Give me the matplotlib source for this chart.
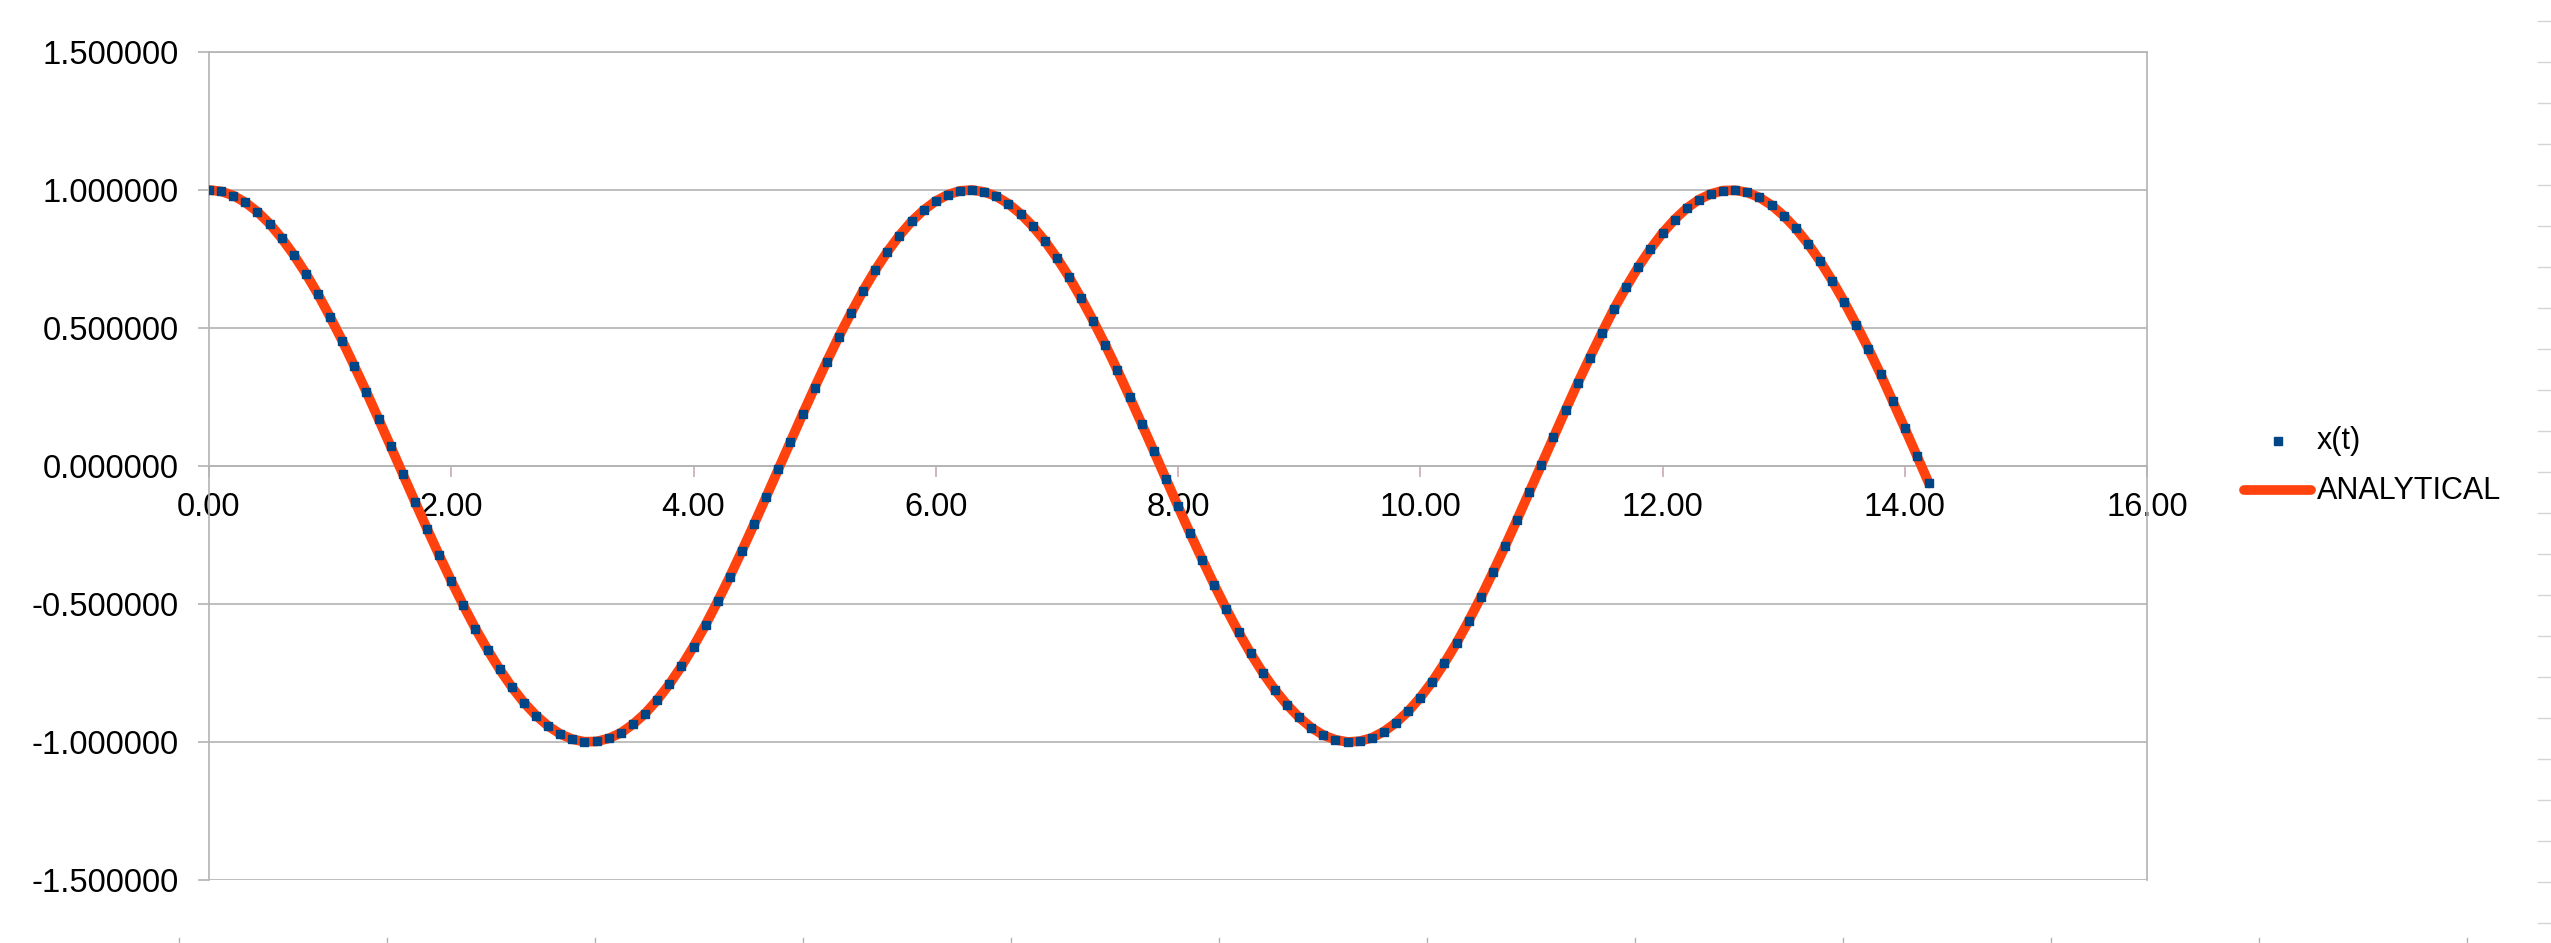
import numpy as np
import matplotlib
matplotlib.use("Agg")
from matplotlib import pyplot as plt
from matplotlib.lines import Line2D
from matplotlib.ticker import FormatStrFormatter

t = [0.0, 0.1, 0.2, 0.3, 0.4, 0.5, 0.6, 0.7, 0.8, 0.9,
     1.0, 1.1, 1.2, 1.3, 1.4, 1.5, 1.6, 1.7, 1.8, 1.9,
     2.0, 2.1, 2.2, 2.3, 2.4, 2.5, 2.6, 2.7, 2.8, 2.9,
     3.0, 3.1, 3.2, 3.3, 3.4, 3.5, 3.6, 3.7, 3.8, 3.9,
     4.0, 4.1, 4.2, 4.3, 4.4, 4.5, 4.6, 4.7, 4.8, 4.9,
     5.0, 5.1, 5.2, 5.3, 5.4, 5.5, 5.6, 5.7, 5.8, 5.9,
     6.0, 6.1, 6.2, 6.3, 6.4, 6.5, 6.6, 6.7, 6.8, 6.9,
     7.0, 7.1, 7.2, 7.3, 7.4, 7.5, 7.6, 7.7, 7.8, 7.9,
     8.0, 8.1, 8.2, 8.3, 8.4, 8.5, 8.6, 8.7, 8.8, 8.9,
     9.0, 9.1, 9.2, 9.3, 9.4, 9.5, 9.6, 9.7, 9.8, 9.9,
     10.0, 10.1, 10.2, 10.3, 10.4, 10.5, 10.6, 10.7, 10.8, 10.9,
     11.0, 11.1, 11.2, 11.3, 11.4, 11.5, 11.6, 11.7, 11.8, 11.9,
     12.0, 12.1, 12.2, 12.3, 12.4, 12.5, 12.6, 12.7, 12.8, 12.9,
     13.0, 13.1, 13.2, 13.3, 13.4, 13.5, 13.6, 13.7, 13.8, 13.9,
     14.0, 14.1, 14.2]

x_t = [1.000, 0.995, 0.980, 0.955, 0.921, 0.878, 0.825, 0.765, 0.697, 0.622,
       0.540, 0.454, 0.362, 0.268, 0.170, 0.071, -0.029, -0.129, -0.227, -0.323,
       -0.416, -0.505, -0.589, -0.666, -0.737, -0.801, -0.857, -0.904, -0.942, -0.971,
       -0.990, -0.999, -0.998, -0.987, -0.967, -0.936, -0.897, -0.848, -0.791, -0.726,
       -0.654, -0.575, -0.490, -0.401, -0.307, -0.211, -0.112, -0.012, 0.088, 0.187,
       0.284, 0.378, 0.469, 0.554, 0.635, 0.709, 0.776, 0.835, 0.886, 0.927,
       0.960, 0.983, 0.997, 1.000, 0.993, 0.977, 0.950, 0.914, 0.869, 0.816,
       0.754, 0.685, 0.608, 0.526, 0.439, 0.347, 0.251, 0.153, 0.054, -0.046,
       -0.146, -0.244, -0.339, -0.431, -0.519, -0.602, -0.679, -0.749, -0.811, -0.865,
       -0.911, -0.948, -0.975, -0.992, -1.000, -0.997, -0.985, -0.962, -0.930, -0.889,
       -0.839, -0.781, -0.714, -0.641, -0.561, -0.476, -0.385, -0.291, -0.194, -0.095,
       0.004, 0.104, 0.203, 0.300, 0.393, 0.483, 0.570, 0.648, 0.721, 0.786,
       0.844, 0.893, 0.934, 0.965, 0.986, 0.998, 0.999, 0.991, 0.973, 0.945,
       0.907, 0.861, 0.806, 0.743, 0.672, 0.595, 0.512, 0.425, 0.333, 0.235,
       0.137, 0.037, -0.063]

# analytical curve sits right on the markers
analytical = list(x_t)

x_ticks = [0, 2, 4, 6, 8, 10, 12, 14, 16]
y_ticks = [-1.5, -1.0, -0.5, 0.0, 0.5, 1.0, 1.5]

grey = '#b3b3b3'
blue = '#004586'
orange = '#ff420e'

plt.rcParams['font.family'] = ['Liberation Sans', 'DejaVu Sans']

W, H = 2551, 943
fig = plt.figure(figsize=(W / 100, H / 100), dpi=100)
ax = fig.add_axes([209 / W, 1 - 880 / H, (2147 - 209) / W, (880 - 52) / H])

ax.plot(t, analytical, color=orange, lw=7, solid_capstyle='round', zorder=3)
ax.plot(t, x_t, ls='none', marker='s', ms=5.8, color=blue, mec=blue, zorder=4)

ax.set_xlim(0, 16)
ax.set_ylim(-1.5, 1.5)
ax.set_xticks(x_ticks)
ax.set_yticks(y_ticks)
ax.xaxis.set_major_formatter(FormatStrFormatter('%.2f'))
ax.yaxis.set_major_formatter(FormatStrFormatter('%.6f'))

ax.grid(axis='y', color=grey, lw=1.2)
ax.set_axisbelow(True)
for s in ['left', 'right', 'top', 'bottom']:
    ax.spines[s].set_color(grey)
    ax.spines[s].set_linewidth(1.2)
ax.spines['bottom'].set_position(('data', 0))

ax.tick_params(axis='y', length=8, width=1.2, color=grey, pad=14, labelsize=23.5)
ax.tick_params(axis='x', direction='out', length=8, width=1.2, color='#c8a8b8',
               pad=11, labelsize=23.5)

# legend drawn by hand to match placement
fig.add_artist(Line2D([2278 / W], [1 - 441 / H], marker='s', ms=5.8, color=blue,
                      ls='none', transform=fig.transFigure))
fig.text(2317 / W, 1 - 441 / H, 'x(t)', fontsize=22, va='center', ha='left')
fig.add_artist(Line2D([2244 / W, 2311 / W], [1 - 490 / H, 1 - 490 / H], color=orange,
                      lw=7, solid_capstyle='round', transform=fig.transFigure))
fig.text(2317 / W, 1 - 491 / H, 'ANALYTICAL', fontsize=22, va='center', ha='left')

# fragments of a neighbouring chart at the edges
for k in range(12):
    xp = (179 + 208 * k) / W
    fig.add_artist(Line2D([xp, xp], [0, 5 / H], color=grey, lw=1,
                          transform=fig.transFigure))
for k in range(23):
    yp = 1 - (21 + 41 * k) / H
    fig.add_artist(Line2D([2538 / W, 1], [yp, yp], color='#d4d4d4', lw=1,
                          transform=fig.transFigure))

fig.savefig('out.png', dpi=100, facecolor='white')
